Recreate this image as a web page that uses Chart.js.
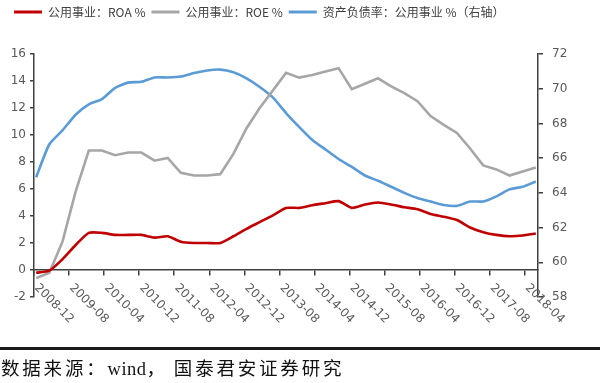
<!DOCTYPE html>
<html>
<head>
<meta charset="utf-8">
<script src="https://cdn.jsdelivr.net/npm/chart.js@4/dist/chart.umd.min.js"></script>
<style>
  html, body { margin: 0; padding: 0; background: #fff; }
  #wrap { position: relative; width: 600px; height: 383px; background: #fff; overflow: hidden; }
  #chartBox { position: absolute; left: 0; top: 0; width: 600px; height: 383px; }
  #rule { position: absolute; left: 0; top: 347px; width: 600px; height: 2.6px; background: #1a1a1a; }
  #source { position: absolute; left: 1px; top: 358px; font-family: "Liberation Serif", "Noto Sans CJK SC", serif; font-size: 18.5px; line-height: 22px; letter-spacing: 2.8px; color: #111; white-space: nowrap; }
  #source .lat { letter-spacing: 0.5px; }
  #source .cm { margin-right: 6px; }
</style>
</head>
<body>
<div id="wrap">
  <div id="chartBox"><canvas id="c"></canvas></div>
  <div id="rule"></div>
  <div id="source">数据来源：<span class="lat">wind</span><span class="cm">，</span>国泰君安证券研究</div>
</div>
<script>
// ---- data (quarterly) ----
const quarters = ['2008-12','2009-03','2009-06','2009-09','2009-12','2010-03','2010-06','2010-09','2010-12',
  '2011-03','2011-06','2011-09','2011-12','2012-03','2012-06','2012-09','2012-12','2013-03','2013-06','2013-09',
  '2013-12','2014-03','2014-06','2014-09','2014-12','2015-03','2015-06','2015-09','2015-12','2016-03','2016-06',
  '2016-09','2016-12','2017-03','2017-06','2017-09','2017-12','2018-03','2018-06'];
const roa = [-0.2,-0.05,0.8,1.85,2.75,2.75,2.6,2.6,2.6,2.4,2.5,2.1,2.0,2.0,2.0,2.5,3.05,3.55,4.05,4.6,
  4.6,4.8,4.95,5.1,4.6,4.85,5.0,4.85,4.65,4.5,4.15,3.95,3.7,3.15,2.8,2.6,2.5,2.55,2.7];
const roe = [-0.6,-0.2,2.1,5.8,8.85,8.85,8.5,8.7,8.7,8.1,8.3,7.2,7.0,7.0,7.1,8.6,10.5,12.0,13.3,14.6,
  14.25,14.45,14.7,14.95,13.4,13.8,14.2,13.6,13.1,12.5,11.4,10.75,10.15,9.0,7.75,7.45,7.0,7.3,7.6];
const debtRatio = [64.9,66.8,67.6,68.5,69.1,69.4,70.05,70.35,70.4,70.65,70.65,70.7,70.9,71.05,71.1,70.95,70.6,70.1,69.5,68.6,
  67.8,67.05,66.5,65.95,65.5,65.0,64.7,64.35,64.0,63.7,63.5,63.3,63.25,63.5,63.5,63.8,64.2,64.35,64.65];
const tickLabels = ['2008-12','2009-08','2010-04','2010-12','2011-08','2012-04','2012-12','2013-08',
  '2014-04','2014-12','2015-08','2016-04','2016-12','2017-08','2018-04'];
const seriesNames = ['公用事业：ROA %','公用事业：ROE %','资产负债率：公用事业 %（右轴）'];

// monthly category axis from first to last quarter
const months = [];
(function(){
  let [y, m] = quarters[0].split('-').map(Number);
  const [ly, lm] = quarters[quarters.length-1].split('-').map(Number);
  while (y < ly || (y === ly && m <= lm)) {
    months.push(y + '-' + String(m).padStart(2,'0'));
    m++; if (m > 12) { m = 1; y++; }
  }
})();
const tickIdx = new Set(tickLabels.map(l => months.indexOf(l)));

const pts = arr => quarters.map((q,i) => ({x: q, y: arr[i]}));

const axisColor = '#404040';
const labelColor = '#595959';

const xLabelPlugin = {
  id: 'xLabels',
  afterDraw(chart) {
    const xs = chart.scales.x, ys = chart.scales.y;
    const y0 = ys.getPixelForValue(0);
    const ctx = chart.ctx;
    ctx.save();
    ctx.fillStyle = labelColor;
    ctx.font = '12px "DejaVu Sans"';
    ctx.textAlign = 'left';
    ctx.textBaseline = 'middle';
    tickLabels.forEach(l => {
      const px = xs.getPixelForValue(months.indexOf(l));
      ctx.save();
      ctx.translate(px, y0 + 16);
      ctx.rotate(Math.PI/4);
      ctx.fillText(l, 0, 0);
      ctx.restore();
    });
    ctx.restore();
  }
};

const legendSpace = {
  id: 'legendSpace',
  beforeInit(chart) {
    const fit = chart.legend.fit;
    chart.legend.fit = function() { fit.bind(chart.legend)(); this.height += 26; };
  }
};

new Chart(document.getElementById('c'), {
  type: 'line',
  data: {
    labels: months,
    datasets: [
      { label: seriesNames[0], data: pts(roa), yAxisID: 'y', borderColor: '#C00000', backgroundColor: '#C00000', borderWidth: 2.6, pointRadius: 0, tension: 0.2 },
      { label: seriesNames[1], data: pts(roe), yAxisID: 'y', borderColor: '#A6A6A6', backgroundColor: '#A6A6A6', borderWidth: 2.6, pointRadius: 0, tension: 0 },
      { label: seriesNames[2], data: pts(debtRatio), yAxisID: 'y1', borderColor: '#5B9BD5', backgroundColor: '#5B9BD5', borderWidth: 2.6, pointRadius: 0, tension: 0.2 }
    ]
  },
  options: {
    responsive: true,
    maintainAspectRatio: false,
    animation: false,
    layout: { padding: { left: 8, right: 0, top: 0, bottom: 86 } },
    plugins: {
      tooltip: { enabled: false },
      legend: {
        position: 'top',
        align: 'start',
        labels: {
          boxWidth: 28, boxHeight: 3, padding: 6,
          color: '#404040',
          font: { family: '"Noto Sans CJK SC"', size: 12 },
          generateLabels(chart) {
            const items = Chart.defaults.plugins.legend.labels.generateLabels(chart);
            items.forEach(it => { it.lineWidth = 0; it.fillStyle = it.strokeStyle; });
            return items;
          }
        }
      }
    },
    scales: {
      x: {
        type: 'category',
        position: { y: 0 },
        offset: true,
        ticks: { display: false, autoSkip: false },
        grid: {
          offset: true,
          drawOnChartArea: false,
          drawTicks: true,
          tickLength: 5,
          lineWidth: 1.5,
          color: ctx => tickIdx.has(ctx.index) ? axisColor : 'rgba(0,0,0,0)'
        },
        border: { display: true, color: axisColor, width: 1.5 },
        afterFit(s) { s.height = 20; }
      },
      y: {
        position: 'left',
        min: -2, max: 16,
        ticks: { stepSize: 2, padding: 4, color: labelColor, font: { family: '"DejaVu Sans"', size: 12 } },
        grid: { drawOnChartArea: false, drawTicks: true, tickLength: 4, color: axisColor, lineWidth: 1.5 },
        border: { display: true, color: axisColor, width: 1.5 },
        afterFit(s) { s.width = 26; }
      },
      y1: {
        position: 'right',
        min: 58, max: 72,
        ticks: { stepSize: 2, padding: 9, color: labelColor, font: { family: '"DejaVu Sans"', size: 12 } },
        grid: { drawOnChartArea: false, drawTicks: true, tickLength: 5, color: axisColor, lineWidth: 1.5 },
        border: { display: true, color: axisColor, width: 1.5 },
        afterFit(s) { s.width = 62; }
      }
    }
  },
  plugins: [legendSpace, xLabelPlugin]
});
</script>
</body>
</html>
